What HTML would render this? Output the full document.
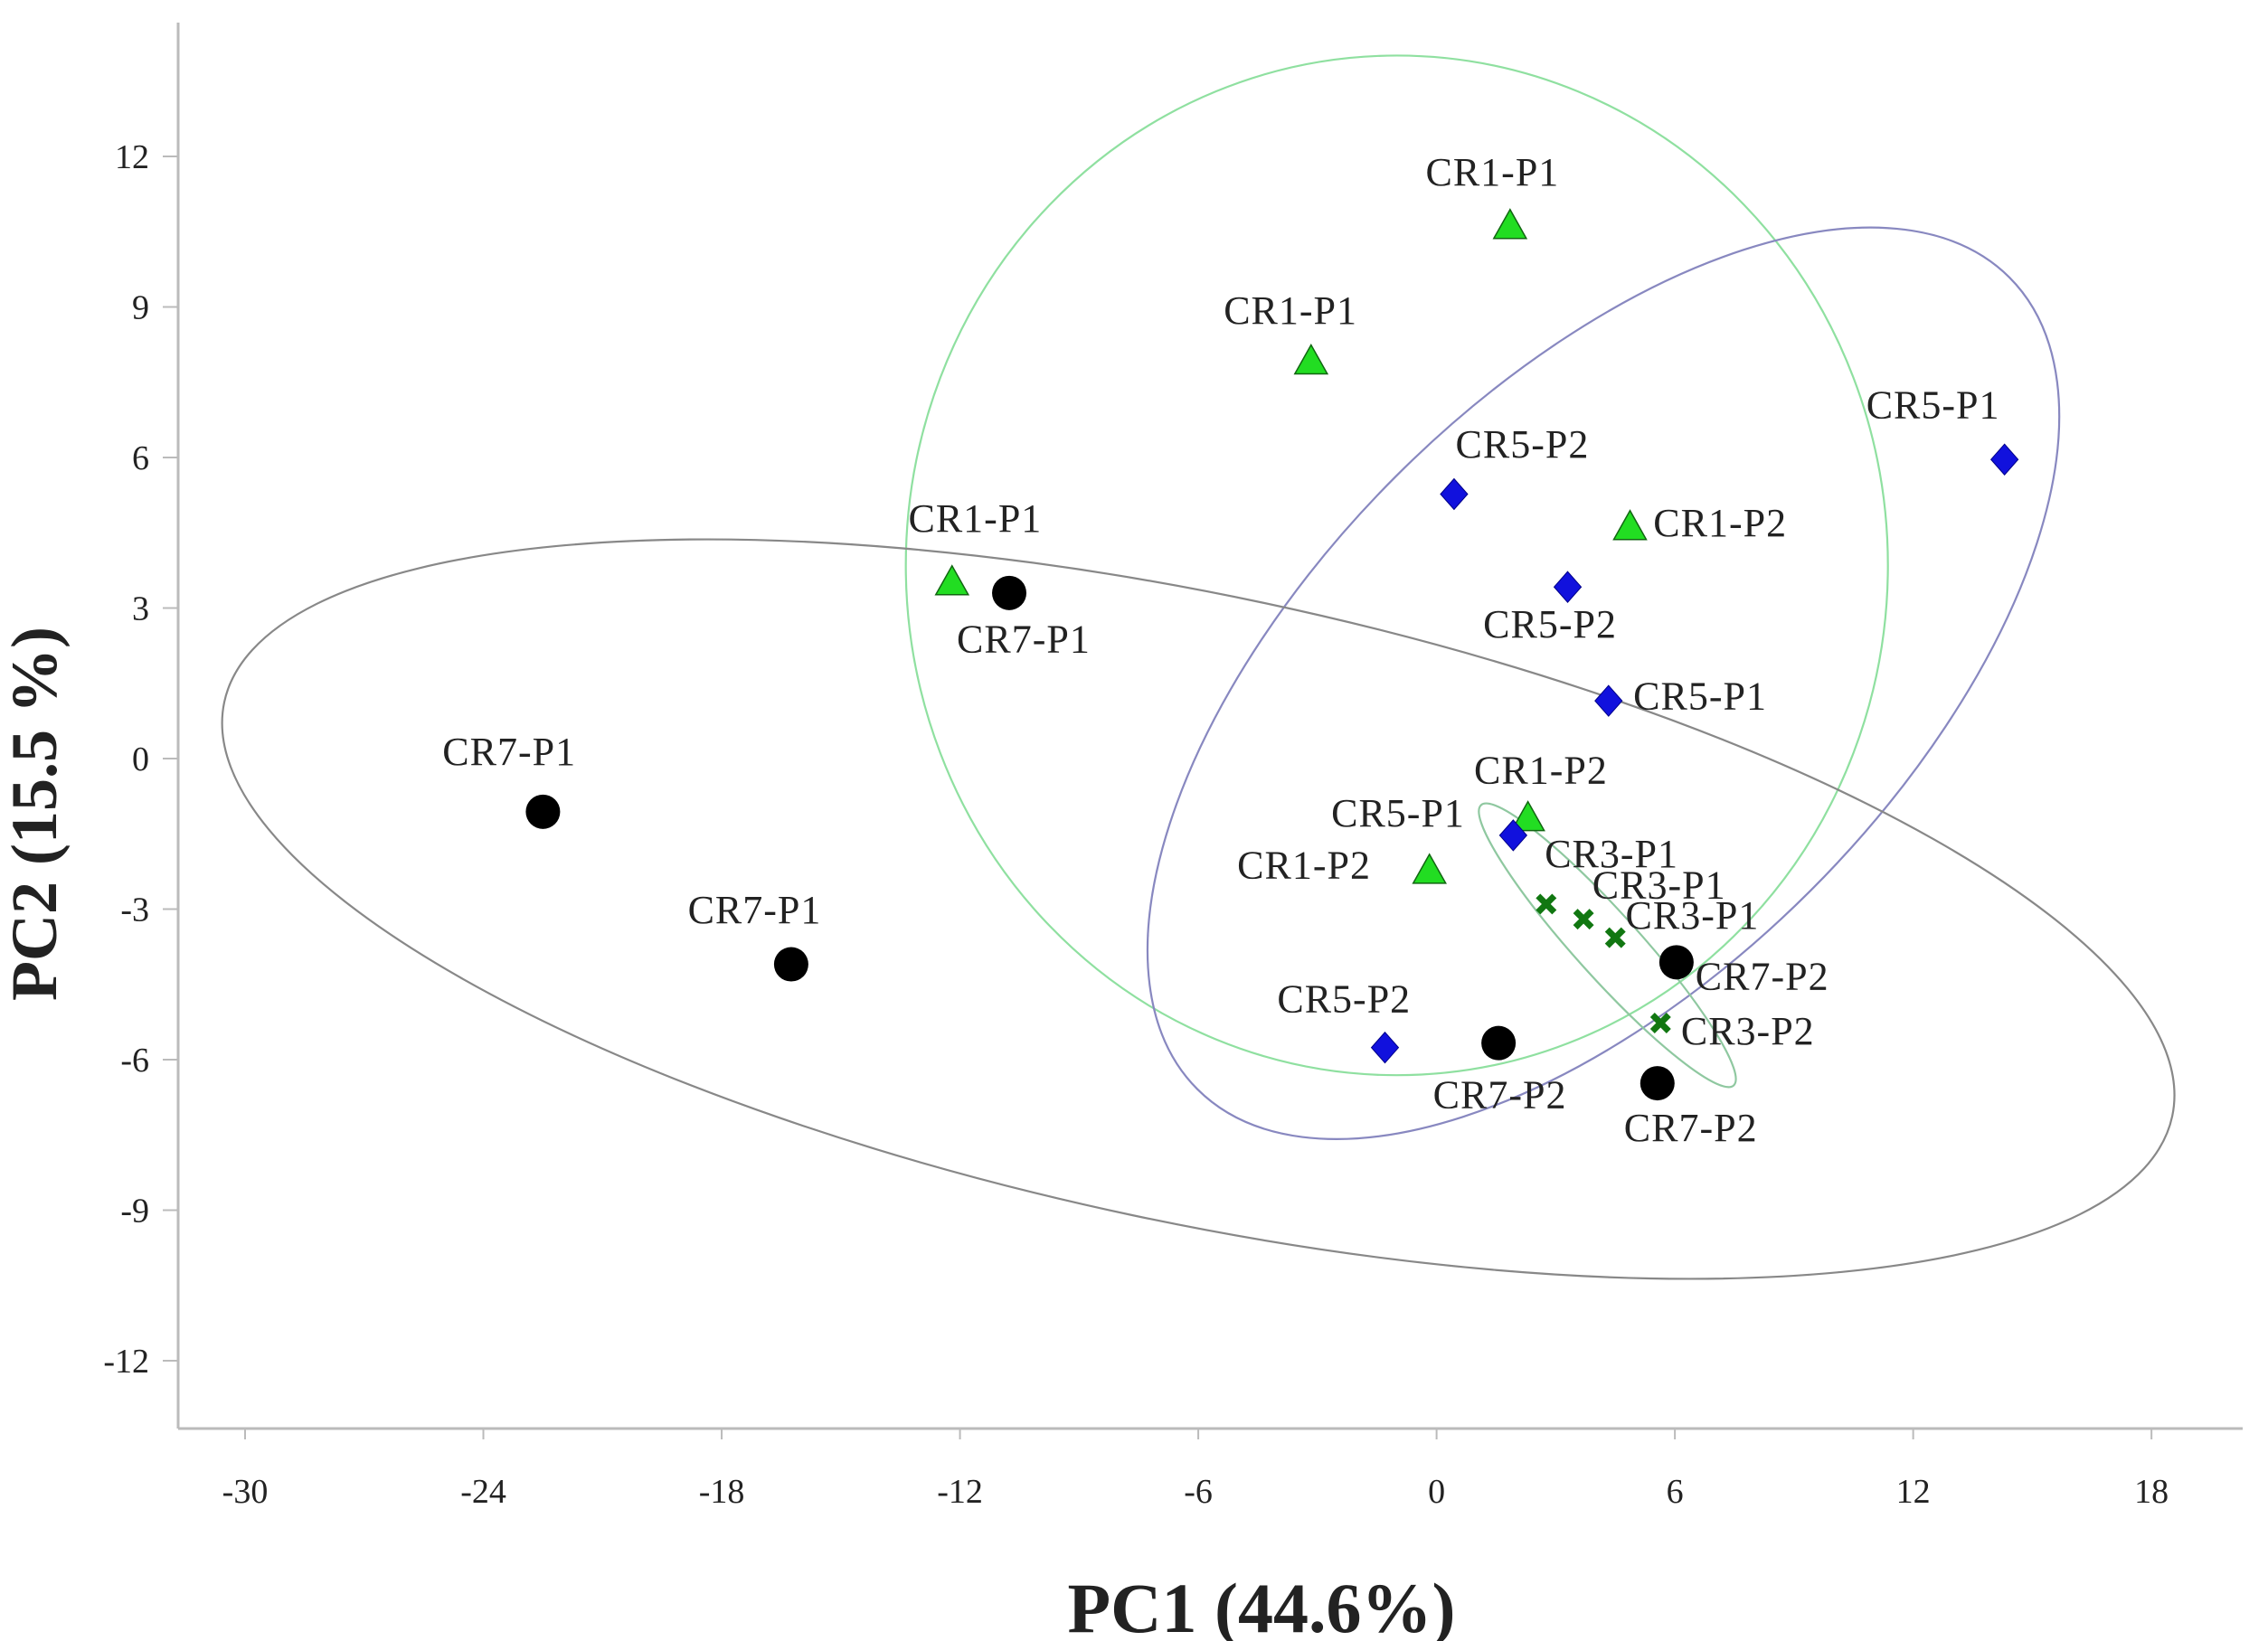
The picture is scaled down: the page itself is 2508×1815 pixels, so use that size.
<!DOCTYPE html>
<html><head><meta charset="utf-8"><style>
html,body{margin:0;padding:0;background:#fff}
svg{display:block}
text{font-family:"Liberation Serif",serif;fill:#222}
</style></head><body>
<svg id="chart" width="2508" height="1815" viewBox="0 0 2508 1815" xmlns="http://www.w3.org/2000/svg">
<g id="ellipses"></g>
<g id="axes"></g>
<g id="marks"></g>
<g id="labels"></g>
</svg>
<script>
const xTicks=[-30,-24,-18,-12,-6,0,6,12,18];
const yTicks=[12,9,6,3,0,-3,-6,-9,-12];
const groupNames=['CR1','CR5','CR7','CR3'];
const cr1X=[1.85,-3.16,-12.2,4.87,2.3,-0.18];
const cr1Y=[10.6,7.9,3.5,4.6,-1.2,-2.25];
const cr1Lab=['CR1-P1','CR1-P1','CR1-P1','CR1-P2','CR1-P2','CR1-P2'];
const cr5X=[0.44,14.3,3.3,4.33,1.93,-1.3];
const cr5Y=[5.27,5.96,3.42,1.15,-1.53,-5.76];
const cr5Lab=['CR5-P2','CR5-P1','CR5-P2','CR5-P1','CR5-P1','CR5-P2'];
const cr7X=[-10.76,-22.5,-16.25,6.04,1.56,5.56];
const cr7Y=[3.3,-1.06,-4.1,-4.06,-5.67,-6.47];
const cr7Lab=['CR7-P1','CR7-P1','CR7-P1','CR7-P2','CR7-P2','CR7-P2'];
const cr3X=[2.76,3.7,4.5,5.64];
const cr3Y=[-2.9,-3.2,-3.57,-5.27];
const cr3Lab=['CR3-P1','CR3-P1','CR3-P1','CR3-P2'];
// label offsets (display px) relative to point
const cr1Off=[[-58,-37],[-60,-35],[-30,-44],[16,-3],[-37,-33],[-132,-4]];
const cr5Off=[[1,-34],[-95,-37],[-58,26],[17,-3],[-125,-15],[-74,-33]];
const cr7Off=[[-36,32],[-69,-41],[-71,-37],[13,10],[-45,36],[-23,31]];
const cr3Off=[[-1,-34],[6,-23],[7,-15],[14,6]];
const ellCx=[-1.0,4.2,-6.0,4.3];
const ellCy=[3.85,1.5,-3.0,-3.72];
const ellA=[12.23,14.3,24.8,4.7];
const ellB=[12.7,7.3,7.8,0.8];
const ellRot=[0,-45,12,48];
const ellColor=['#8fe0a0','#8888c0','#888888','#8fc8a0'];

const X=v=>1588.6+v*43.92;
const Y=v=>839-v*55.5;
const NS='http://www.w3.org/2000/svg';
function mk(p,t,a){const e=document.createElementNS(NS,t);for(const k in a)e.setAttribute(k,a[k]);p.appendChild(e);return e;}
const ax=document.getElementById('axes');
let l=mk(ax,'line',{x1:197,y1:25,x2:197,y2:1580,stroke:'#bbb','stroke-width':3});

l=mk(ax,'line',{x1:197,y1:1580,x2:2480,y2:1580,stroke:'#bbb','stroke-width':3});

xTicks.forEach(v=>{
 const t=mk(ax,'line',{x1:X(v),y1:1580,x2:X(v),y2:1592,stroke:'#bbb','stroke-width':2});
 
 const tx=mk(ax,'text',{x:X(v),y:1662,'text-anchor':'middle','font-size':38});tx.textContent=v;
 
});
yTicks.forEach(v=>{
 const t=mk(ax,'line',{x1:180,y1:Y(v),x2:197,y2:Y(v),stroke:'#bbb','stroke-width':2});
 
 const tx=mk(ax,'text',{x:165,y:Y(v)+13,'text-anchor':'end','font-size':38});tx.textContent=v;
 
});
let tt=mk(ax,'text',{x:1395,y:1805,'text-anchor':'middle','font-size':78,'font-weight':'bold'});tt.textContent='PC1 (44.6%)';

tt=mk(ax,'text',{x:0,y:0,'text-anchor':'middle','font-size':72,'font-weight':'bold',transform:'translate(62,900) rotate(-90)'});tt.textContent='PC2 (15.5 %)';


const eg=document.getElementById('ellipses');
ellCx.forEach((c,i)=>{
 const cx=X(c),cy=Y(ellCy[i]);
 const e=mk(eg,'ellipse',{cx:cx,cy:cy,rx:ellA[i]*44.4,ry:ellB[i]*44.4,fill:'none',stroke:ellColor[i],'stroke-width':2.2,transform:`rotate(${ellRot[i]} ${cx} ${cy})`});
 
 
});

const mg=document.getElementById('marks'),lg=document.getElementById('labels');
function draw(xs,ys,labs,offs,kind,name){
 xs.forEach((xv,i)=>{
  const px=X(xv),py=Y(ys[i]);let m;
  if(kind==='tri'){m=mk(mg,'polygon',{points:`${px},${py-19} ${px-18},${py+13} ${px+18},${py+13}`,fill:'#22dd22',stroke:'#116611','stroke-width':1.5});}
  else if(kind==='dia'){m=mk(mg,'polygon',{points:`${px},${py-17} ${px+15},${py} ${px},${py+17} ${px-15},${py}`,fill:'#1111dd',stroke:'#000088','stroke-width':1});}
  else if(kind==='cir'){m=mk(mg,'circle',{cx:px,cy:py,r:19,fill:'#000'});}
  else {m=mk(mg,'path',{d:`M${px-9},${py-9}L${px+9},${py+9}M${px+9},${py-9}L${px-9},${py+9}`,stroke:'#117711','stroke-width':7});}
  
  
  const t=mk(lg,'text',{x:px+offs[i][0]*1.61,y:py+offs[i][1]*1.61+14,'font-size':44,'letter-spacing':1});
  t.textContent=labs[i];
  
  
 });
}
draw(cr1X,cr1Y,cr1Lab,cr1Off,'tri','cr1');
draw(cr5X,cr5Y,cr5Lab,cr5Off,'dia','cr5');
draw(cr7X,cr7Y,cr7Lab,cr7Off,'cir','cr7');
draw(cr3X,cr3Y,cr3Lab,cr3Off,'x','cr3');
</script>
</body></html>
